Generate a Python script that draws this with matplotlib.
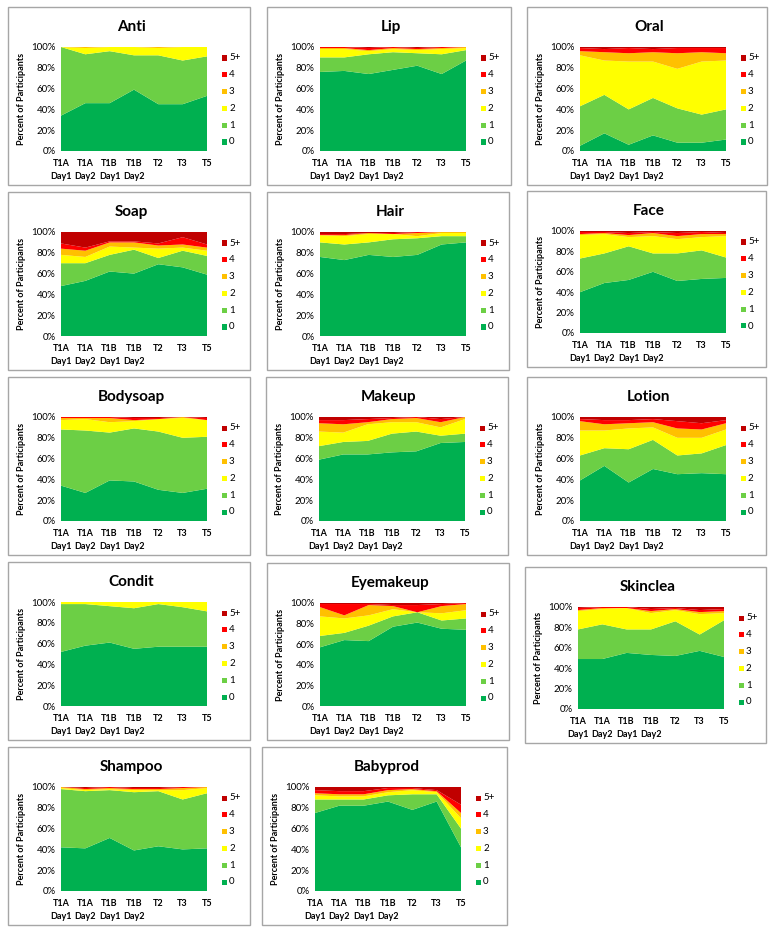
import matplotlib
matplotlib.use("Agg")
import matplotlib.pyplot as plt
from matplotlib.patches import Rectangle

plt.rcParams['font.family'] = ['Lato', 'DejaVu Sans']

# --- DATOS ---
times = ['T1A\nDay1', 'T1A\nDay2', 'T1B\nDay1', 'T1B\nDay2', 'T2', 'T3', 'T5']
levels = ['0', '1', '2', '3', '4', '5+']
colors = ['#00B050', '#6CCF45', '#FFFF00', '#FFC000', '#FF0000', '#C00000']

# porcentaje de participantes por nivel (0, 1, 2, 3, 4, 5+) en cada tiempo
anti = [[34, 46, 46, 59, 45, 45, 53], [66, 47, 50, 33, 47, 42, 38], [0, 6, 4, 8, 7, 13, 9],
        [0, 1, 0, 0, 1, 0, 0], [0, 0, 0, 0, 0, 0, 0], [0, 0, 0, 0, 0, 0, 0]]
lip = [[76, 77, 74, 78, 82, 74, 87], [14, 13, 19, 17, 12, 19, 10], [8, 8, 3, 3, 3, 5, 2],
       [1, 1, 1, 1, 1, 1, 1], [1, 1, 2, 1, 1, 1, 0], [0, 0, 1, 0, 1, 0, 0]]
oral = [[5, 17, 6, 15, 8, 8, 11], [38, 37, 34, 36, 33, 27, 29], [49, 33, 46, 35, 38, 51, 47],
        [4, 8, 8, 9, 15, 9, 7], [3, 3, 5, 3, 5, 4, 5], [1, 2, 1, 2, 1, 1, 1]]
soap = [[48, 53, 62, 60, 69, 66, 59], [22, 17, 16, 23, 6, 16, 18], [8, 6, 8, 2, 9, 3, 5],
        [6, 6, 4, 5, 3, 3, 3], [5, 3, 1, 1, 2, 7, 3], [11, 15, 9, 9, 11, 5, 12]]
hair = [[76, 73, 78, 76, 78, 88, 90], [14, 15, 12, 17, 16, 8, 6], [7, 8, 8, 5, 2, 3, 3],
        [0, 1, 1, 0, 3, 1, 1], [1, 1, 0, 1, 1, 0, 0], [2, 2, 1, 1, 0, 0, 0]]
face = [[40, 49, 52, 60, 51, 53, 54], [33, 29, 33, 18, 27, 28, 20], [23, 19, 9, 17, 14, 13, 21],
        [1, 1, 2, 3, 3, 3, 2], [2, 1, 2, 1, 3, 2, 1], [1, 1, 2, 1, 2, 1, 2]]
bodysoap = [[34, 27, 39, 38, 30, 27, 31], [54, 60, 46, 51, 56, 53, 50], [9, 11, 10, 7, 12, 19, 16],
            [2, 1, 4, 1, 0, 1, 0], [1, 1, 1, 2, 1, 0, 2], [0, 0, 0, 1, 1, 0, 1]]
makeup = [[59, 64, 64, 66, 67, 75, 76], [13, 12, 13, 18, 19, 7, 8], [14, 9, 16, 11, 9, 8, 14],
          [8, 8, 2, 3, 4, 5, 2], [3, 4, 3, 1, 1, 3, 0], [3, 3, 2, 1, 0, 2, 0]]
lotion = [[39, 53, 37, 50, 45, 46, 45], [24, 17, 32, 28, 18, 19, 28], [24, 17, 20, 12, 17, 15, 15],
          [9, 6, 5, 5, 9, 8, 6], [2, 4, 3, 3, 7, 6, 3], [2, 3, 3, 2, 4, 6, 3]]
condit = [[52, 58, 61, 55, 57, 57, 57], [46, 40, 35, 39, 41, 38, 34], [2, 2, 4, 6, 2, 5, 9],
          [0, 0, 0, 0, 0, 0, 0], [0, 0, 0, 0, 0, 0, 0], [0, 0, 0, 0, 0, 0, 0]]
eyemakeup = [[57, 64, 63, 77, 81, 75, 74], [11, 7, 15, 10, 10, 8, 11], [19, 14, 10, 7, 0, 7, 8],
             [9, 3, 10, 3, 0, 7, 6], [3, 11, 1, 1, 7, 2, 1], [1, 1, 1, 2, 2, 1, 0]]
skinclea = [[49, 49, 55, 53, 52, 57, 51], [29, 34, 23, 25, 34, 16, 36], [18, 15, 21, 16, 11, 20, 7],
            [1, 1, 0, 2, 1, 2, 2], [2, 1, 1, 2, 1, 2, 2], [1, 0, 0, 2, 1, 3, 2]]
shampoo = [[42, 41, 51, 39, 43, 40, 41], [56, 55, 46, 56, 53, 48, 53], [1, 1, 1, 2, 1, 9, 5],
           [1, 1, 1, 1, 1, 2, 1], [0, 1, 1, 1, 1, 1, 0], [0, 1, 0, 1, 1, 0, 0]]
babyprod = [[75, 82, 82, 86, 78, 86, 42], [13, 6, 6, 6, 15, 7, 18], [4, 3, 3, 3, 4, 2, 10],
            [2, 2, 2, 2, 1, 1, 5], [3, 3, 3, 2, 1, 1, 8], [3, 4, 4, 1, 1, 3, 17]]

# (titulo, datos, caja en pixeles: x0, y0, x1, y1)
panels = [
    ('Anti', anti, (8, 7, 250, 185)),
    ('Lip', lip, (267, 7, 511, 185)),
    ('Oral', oral, (527, 7, 767, 185)),
    ('Soap', soap, (8, 192, 250, 370)),
    ('Hair', hair, (267, 192, 509, 370)),
    ('Face', face, (527, 191, 766, 367)),
    ('Bodysoap', bodysoap, (8, 377, 250, 555)),
    ('Makeup', makeup, (266, 377, 508, 555)),
    ('Lotion', lotion, (527, 377, 766, 555)),
    ('Condit', condit, (8, 562, 250, 740)),
    ('Eyemakeup', eyemakeup, (267, 563, 509, 740)),
    ('Skinclea', skinclea, (525, 567, 766, 743)),
    ('Shampoo', shampoo, (8, 747, 250, 925)),
    ('Babyprod', babyprod, (262, 747, 507, 925)),
]

W, H = 774, 932
fig = plt.figure(figsize=(W / 100, H / 100), dpi=100)
fig.patch.set_facecolor('white')

def fx(x): return x / W
def fy(y): return 1 - y / H

for title, data, (x0, y0, x1, y1) in panels:
    # marco del panel
    fig.add_artist(Rectangle((fx(x0), fy(y1)), fx(x1 - x0), (y1 - y0) / H,
                             transform=fig.transFigure, fill=False,
                             edgecolor='#A6A6A6', linewidth=1.0))
    bw = x1 - x0
    bh = y1 - y0
    pl, pr = x0 + 53, x0 + 199
    pt, pb = y0 + 40, y0 + bh - 34
    ax = fig.add_axes([fx(pl), fy(pb), fx(pr - pl), (pb - pt) / H])
    xs = list(range(len(times)))
    ax.stackplot(xs, *data, colors=colors, linewidth=0)
    ax.set_xlim(0, len(times) - 1)
    ax.set_ylim(0, 100)
    ax.set_yticks([0, 20, 40, 60, 80, 100])
    ax.set_yticklabels(['0%', '20%', '40%', '60%', '80%', '100%'], fontsize=7)
    ax.set_xticks(xs)
    ax.set_xticklabels(times, fontsize=6.5, fontweight='bold', linespacing=1.5)
    ax.tick_params(axis='x', length=0, pad=6)
    ax.tick_params(axis='y', length=0, pad=4)
    for s in ax.spines.values():
        s.set_visible(False)
    ax.set_ylabel('Percent of Participants', fontsize=6.5, fontweight='bold', labelpad=4)

    fig.text(fx(x0 + bw / 2 + 2), fy(y0 + 20), title, fontsize=11, fontweight='bold',
             ha='center', va='center')

    # leyenda manual
    for k in range(len(levels)):
        ly = y0 + 135 - k * 16.8
        fig.add_artist(Rectangle((fx(x0 + 214), fy(ly + 2.5)), fx(5), 5 / H,
                                 transform=fig.transFigure, facecolor=colors[k],
                                 edgecolor='none'))
        fig.text(fx(x0 + 221), fy(ly), levels[k], fontsize=7, ha='left', va='center')

fig.savefig('out.png', dpi=100)
